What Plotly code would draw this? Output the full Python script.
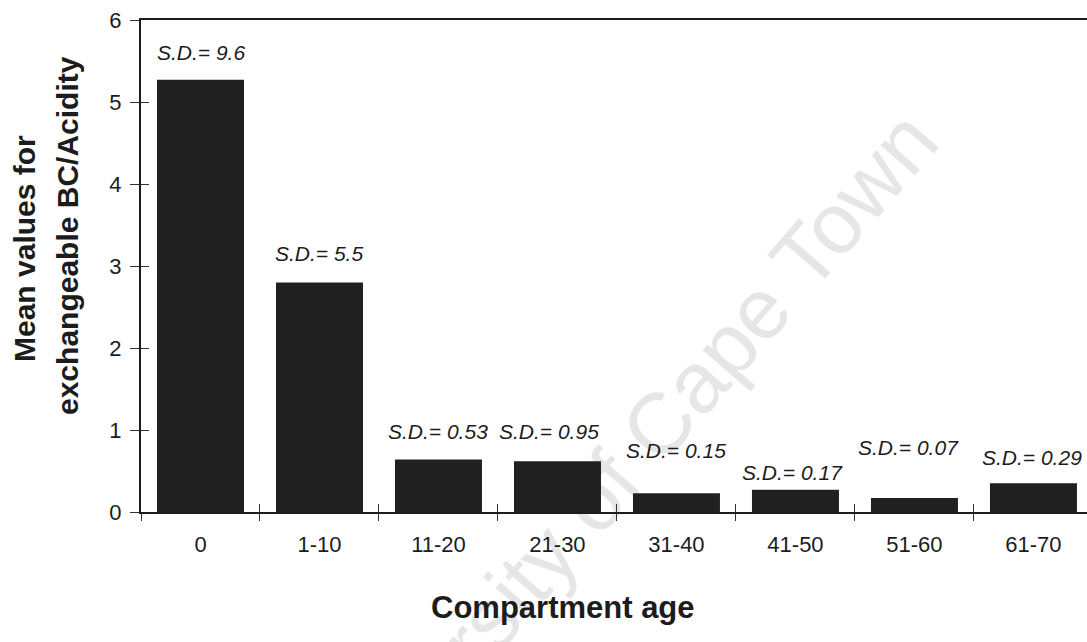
import plotly.graph_objects as go

# Compartment age classes and mean exchangeable base cations / acidity
ages = ["0", "1-10", "11-20", "21-30", "31-40", "41-50", "51-60", "61-70"]
mean_bc_acidity = [5.27, 2.80, 0.64, 0.62, 0.23, 0.27, 0.17, 0.35]
sd_values = ["9.6", "5.5", "0.53", "0.95", "0.15", "0.17", "0.07", "0.29"]

# where each S.D. note sits (y in data units) and a small horizontal nudge in px
sd_label_y = [5.6, 3.15, 0.98, 0.98, 0.75, 0.48, 0.79, 0.67]
sd_label_dx = [0, 0, 0, -8, 0, -3, -6, -1]

FONT = "Arial, Liberation Sans, sans-serif"
INK = "#1c1c1c"

W, H = 1087, 642
ML, MR, MT, MB = 141, 0, 20, 130
PW, PH = W - ML - MR, H - MT - MB


def px_to_paper(x_px, y_px):
    return (x_px - ML) / PW, (H - MB - y_px) / PH


fig = go.Figure()

fig.add_bar(
    x=ages,
    y=mean_bc_acidity,
    marker=dict(color="#202020", line=dict(width=0)),
    hoverinfo="x+y",
    showlegend=False,
)

# invisible companion trace so the overlay axes (inward tick marks) are drawn
fig.add_scatter(
    x=ages,
    y=mean_bc_acidity,
    xaxis="x2",
    yaxis="y2",
    mode="markers",
    marker=dict(opacity=0),
    hoverinfo="skip",
    showlegend=False,
)

annotations = []
for age, sd, ly, dx in zip(ages, sd_values, sd_label_y, sd_label_dx):
    annotations.append(dict(
        x=age, y=ly, xref="x", yref="y",
        text=f"<i>S.D.= {sd}</i>",
        showarrow=False, xshift=dx,
        xanchor="center", yanchor="middle",
        font=dict(family=FONT, size=21, color=INK),
    ))

# y-axis title, two lines
for line, (cx, cy) in [("Mean values for", (24, 249)),
                       ("exchangeable BC/Acidity", (68, 236))]:
    px, py = px_to_paper(cx, cy)
    annotations.append(dict(
        x=px, y=py, xref="paper", yref="paper",
        text=f"<b>{line}</b>", textangle=-90, showarrow=False,
        xanchor="center", yanchor="middle",
        font=dict(family=FONT, size=30, color=INK),
    ))

# x-axis title
tx, ty = px_to_paper(563, 607)
annotations.append(dict(
    x=tx, y=ty, xref="paper", yref="paper",
    text="<b>Compartment age</b>", showarrow=False,
    xanchor="center", yanchor="middle",
    font=dict(family=FONT, size=31, color=INK),
))

# faint diagonal watermark behind the bars
wx, wy = px_to_paper(610, 468)
shapes = [dict(
    type="rect", xref="paper", yref="paper",
    x0=wx - 0.01, x1=wx + 0.01, y0=wy - 0.01, y1=wy + 0.01,
    line=dict(width=0), fillcolor="rgba(0,0,0,0)", layer="below",
    label=dict(text="University of Cape Town", textangle=-49,
               textposition="middle center",
               font=dict(family=FONT, size=86, color="#e6e6e6")),
)]

fig.update_layout(
    width=W, height=H,
    margin=dict(l=ML, r=MR, t=MT, b=MB),
    paper_bgcolor="white",
    plot_bgcolor="rgba(0,0,0,0)",
    bargap=0.269,
    showlegend=False,
    font=dict(family=FONT, color=INK),
    annotations=annotations,
    shapes=shapes,
    xaxis=dict(
        type="category", categoryorder="array", categoryarray=ages,
        range=[-0.5, 7.45],
        showline=True, linecolor=INK, linewidth=2, mirror=True,
        ticks="outside", tickson="boundaries", ticklen=7, tickwidth=1,
        tickcolor="#333333",
        tickfont=dict(family=FONT, size=22, color=INK),
        ticklabelstandoff=12,
        showgrid=False, zeroline=False,
    ),
    yaxis=dict(
        range=[0, 6], tickvals=[0, 1, 2, 3, 4, 5, 6],
        showline=True, linecolor=INK, linewidth=2,
        ticks="outside", ticklen=9, tickwidth=1, tickcolor="#333333",
        tickfont=dict(family=FONT, size=22, color=INK),
        ticklabelstandoff=4,
        showgrid=False, zeroline=False,
    ),
    xaxis2=dict(
        overlaying="x", anchor="y2", side="bottom",
        type="category", categoryorder="array", categoryarray=ages,
        range=[-0.5, 7.45],
        ticks="inside", tickson="boundaries", ticklen=8, tickwidth=1,
        tickcolor="#333333",
        showticklabels=False, showline=False, showgrid=False, zeroline=False,
    ),
    yaxis2=dict(
        overlaying="y", anchor="x2", side="left",
        range=[0, 6], tickvals=[0, 1, 2, 3, 4, 5, 6],
        ticks="inside", ticklen=8, tickwidth=1, tickcolor="#333333",
        showticklabels=False, showline=False, showgrid=False, zeroline=False,
    ),
)

fig.write_html("out.html")
